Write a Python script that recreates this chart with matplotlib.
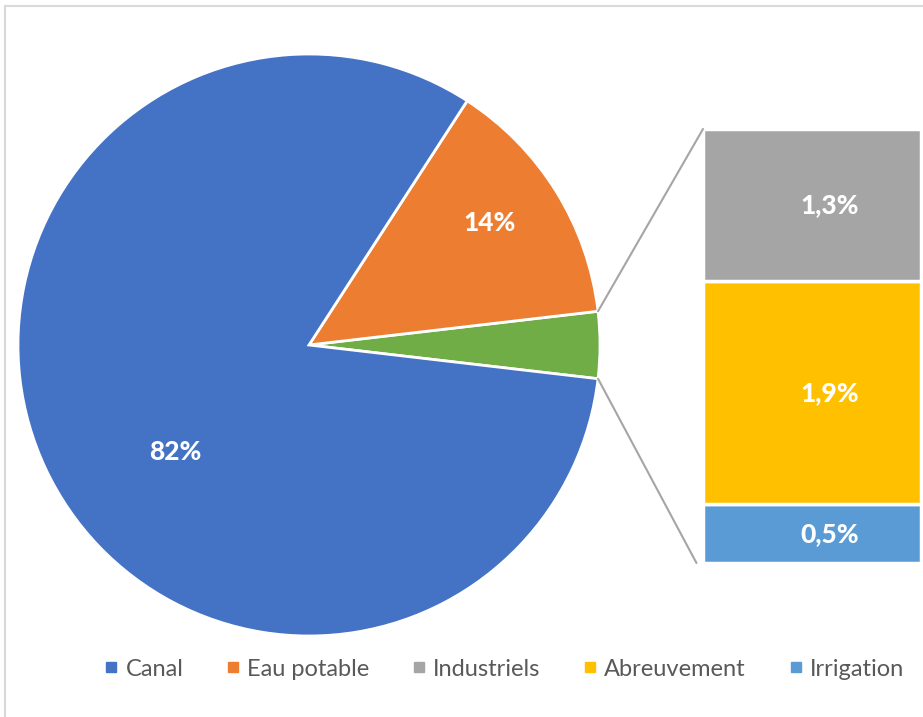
import matplotlib.pyplot as plt
from matplotlib.patches import ConnectionPatch, Rectangle
from matplotlib.lines import Line2D
import numpy as np

plt.rcParams['font.family'] = ['Lato', 'DejaVu Sans']

# data
pie_labels = ["Canal", "Eau potable"]
pie_values = [82.3, 14.0]
bar_labels = ["Industriels", "Abreuvement", "Irrigation"]
bar_values = [1.3, 1.9, 0.5]

pie_colors = ["#4472C4", "#ED7D31"]
other_color = "#70AD47"
bar_colors = ["#A5A5A5", "#FFC000", "#5B9BD5"]

fig = plt.figure(figsize=(9.23, 7.17), dpi=100)
W, H = 923, 717

# chart border
fig.patches.append(Rectangle((5 / W, -0.1), 1.2, 1 - 6 / H + 0.1, transform=fig.transFigure,
                             fill=False, edgecolor="#D9D9D9", linewidth=1.5))

# pie
ax = fig.add_axes([18 / W, (H - 636) / H, 582 / W, 582 / H])
other = sum(bar_values)
vals = [other, pie_values[1], pie_values[0]]
cols = [other_color, pie_colors[1], pie_colors[0]]
total = sum(vals)
start = -other / total * 180
wedges, _ = ax.pie(vals, colors=cols, startangle=start, counterclock=True,
                   wedgeprops=dict(edgecolor="white", linewidth=2))
ax.set_xlim(-1.0, 1.0)
ax.set_ylim(-1.0, 1.0)
ax.set_aspect("equal")
ax.axis("off")

# data labels
lab_pos = {"Eau potable": (0.75, 34), "Canal": (0.59, 218.7)}
for name, v in zip(pie_labels, pie_values):
    r, a = lab_pos[name]
    ax.text(r * np.cos(np.radians(a)), r * np.sin(np.radians(a)), f"{v / total * 100:.0f}%",
            ha="center", va="center", color="white", fontsize=19, fontweight="black")

# stacked bar
bx = fig.add_axes([703 / W, (H - 563) / H, 218 / W, 434 / H])
bottom = 0
stack = list(zip(bar_labels, bar_values, bar_colors))[::-1]
for name, v, c in stack:
    bx.bar(0, v, width=1, bottom=bottom, color=c, edgecolor="white", linewidth=2.5)
    bx.text(0.08, bottom + v / 2, f"{v:.1f}".replace(".", ",") + "%",
            ha="center", va="center", color="white", fontsize=19, fontweight="black")
    bottom += v
bx.set_xlim(-0.5, 0.5)
bx.set_ylim(0, other)
bx.axis("off")

# connecting lines
theta = np.radians(other / total * 180)
for sgn, yb in [(1, other), (-1, 0)]:
    con = ConnectionPatch(xyA=(np.cos(theta), sgn * np.sin(theta)), coordsA=ax.transData,
                          xyB=(-0.5 - (0.03 if sgn < 0 else 0), yb), coordsB=bx.transData,
                          color="#A5A5A5", linewidth=1.5)
    fig.add_artist(con)

# legend
handles = [Line2D([], [], marker="s", linestyle="none", color=c, markersize=7)
           for c in pie_colors + bar_colors]
fig.legend(handles, pie_labels + bar_labels, loc="center", ncol=5,
           bbox_to_anchor=(503 / W, (H - 669) / H), frameon=False,
           fontsize=17, labelcolor="#595959", handletextpad=0.2,
           columnspacing=1.7, handlelength=0.8)

fig.savefig("out.png", dpi=100)
